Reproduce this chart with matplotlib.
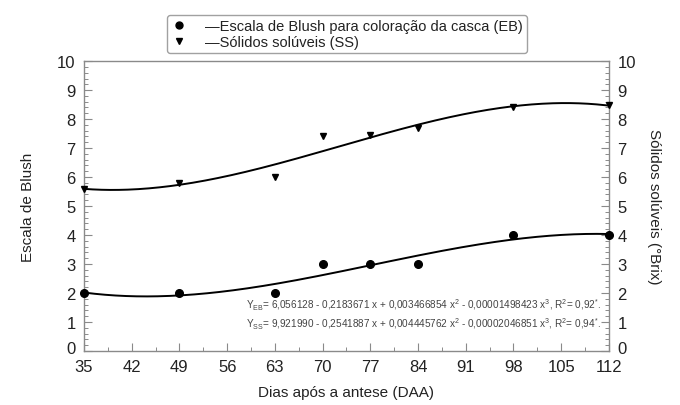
import numpy as np
import matplotlib
matplotlib.use('Agg')
import matplotlib.pyplot as plt
from matplotlib.lines import Line2D
from matplotlib.ticker import MultipleLocator
from matplotlib.transforms import ScaledTranslation

plt.rcParams['font.family'] = ['Liberation Sans', 'DejaVu Sans']

# data
dias = [35, 49, 63, 70, 77, 84, 98, 112]
blush = [2, 2, 2, 3, 3, 3, 4, 4]
solidos = [5.6, 5.8, 6.0, 7.4, 7.45, 7.7, 8.4, 8.5]

# fitted cubic coefficients printed on the chart (b0, b1, b2, b3)
coef_eb = [6.056128, -0.2183671, 0.003466854, -0.00001498423]
coef_ss = [9.921990, -0.2541887, 0.004445762, -0.00002046851]

x_ticks = [35, 42, 49, 56, 63, 70, 77, 84, 91, 98, 105, 112]

txt = '#222222'
spine = '#8a8a8a'

fig = plt.figure(figsize=(6.8, 4.06), dpi=100)
ax = fig.add_axes([0.1235, 0.133, 0.772, 0.714])

xs = np.linspace(dias[0], dias[-1], 300)
ax.plot(xs, np.polynomial.polynomial.polyval(xs, coef_eb), color='black', lw=1.4)
ax.plot(xs, np.polynomial.polynomial.polyval(xs, coef_ss), color='black', lw=1.4)
ax.plot(dias, blush, 'o', color='black', ms=5.5, clip_on=False, zorder=5)
ax.plot(dias, solidos, 'v', color='black', ms=5, clip_on=False, zorder=5)

ax.set_xlim(35, 112)
ax.set_ylim(0, 10)
ax.set_xticks(x_ticks)
ax.xaxis.set_minor_locator(MultipleLocator(3.5))
ax.yaxis.set_major_locator(MultipleLocator(1))
ax.yaxis.set_minor_locator(MultipleLocator(0.2))
ax.tick_params(which='both', direction='in', colors=spine, labelcolor=txt,
               labelsize=12, left=True, right=True, labelright=True)
ax.tick_params(which='major', length=6, width=0.8)
ax.tick_params(which='minor', length=3, width=0.7)
ax.tick_params(axis='y', which='major', pad=6)
ax.tick_params(axis='x', which='major', pad=6)
for s in ax.spines.values():
    s.set_color(spine)
    s.set_linewidth(1.0)

ax.set_xlabel('Dias após a antese (DAA)', fontsize=11, color=txt, labelpad=8)
ax.set_ylabel('Escala de Blush', fontsize=11, color=txt, labelpad=16)
fig.text(0.962, 0.49, 'Sólidos solúveis (°Brix)', rotation=-90, fontsize=11,
         color=txt, ha='center', va='center')

eq_eb = ('Y$_{\\mathregular{EB}}$= 6,056128 - 0,2183671 x + 0,003466854 x$^{\\mathregular{2}}$'
         ' - 0,00001498423 x$^{\\mathregular{3}}$, R$^{\\mathregular{2}}$= 0,92$^{\\mathregular{*}}$.')
eq_ss = ('Y$_{\\mathregular{SS}}$= 9,921990 - 0,2541887 x + 0,004445762 x$^{\\mathregular{2}}$'
         ' - 0,00002046851 x$^{\\mathregular{3}}$, R$^{\\mathregular{2}}$= 0,94$^{\\mathregular{*}}$.')
ax.text(0.985, 0.16, eq_eb, transform=ax.transAxes, ha='right', va='center',
        fontsize=7.2, color='#444444')
ax.text(0.985, 0.097, eq_ss, transform=ax.transAxes, ha='right', va='center',
        fontsize=7.2, color='#444444')

handles = [Line2D([], [], marker='o', ls='none', color='black', ms=5),
           Line2D([], [], marker='v', ls='none', color='black', ms=5)]
labels = ['\u2014Escala de Blush para coloração da casca (EB)',
          '\u2014Sólidos solúveis (SS)']
leg = fig.legend(handles, labels, loc='center', bbox_to_anchor=(0.51, 0.914),
                 fontsize=10.5, frameon=True, fancybox=True, handlelength=1.2,
                 handletextpad=1.2, labelspacing=0.15, borderpad=0.25,
                 edgecolor=spine, labelcolor=txt)
leg.get_frame().set_linewidth(1.0)

# nudge the "0" labels up a little so they clear the x tick labels
fig.canvas.draw()
lift = ScaledTranslation(0, 3 / 72, fig.dpi_scale_trans)
for tick in ax.yaxis.get_major_ticks():
    if tick.label1.get_text() == '0':
        tick.label1.set_transform(tick.label1.get_transform() + lift)
        tick.label2.set_transform(tick.label2.get_transform() + lift)

fig.savefig('out.png', dpi=100)
